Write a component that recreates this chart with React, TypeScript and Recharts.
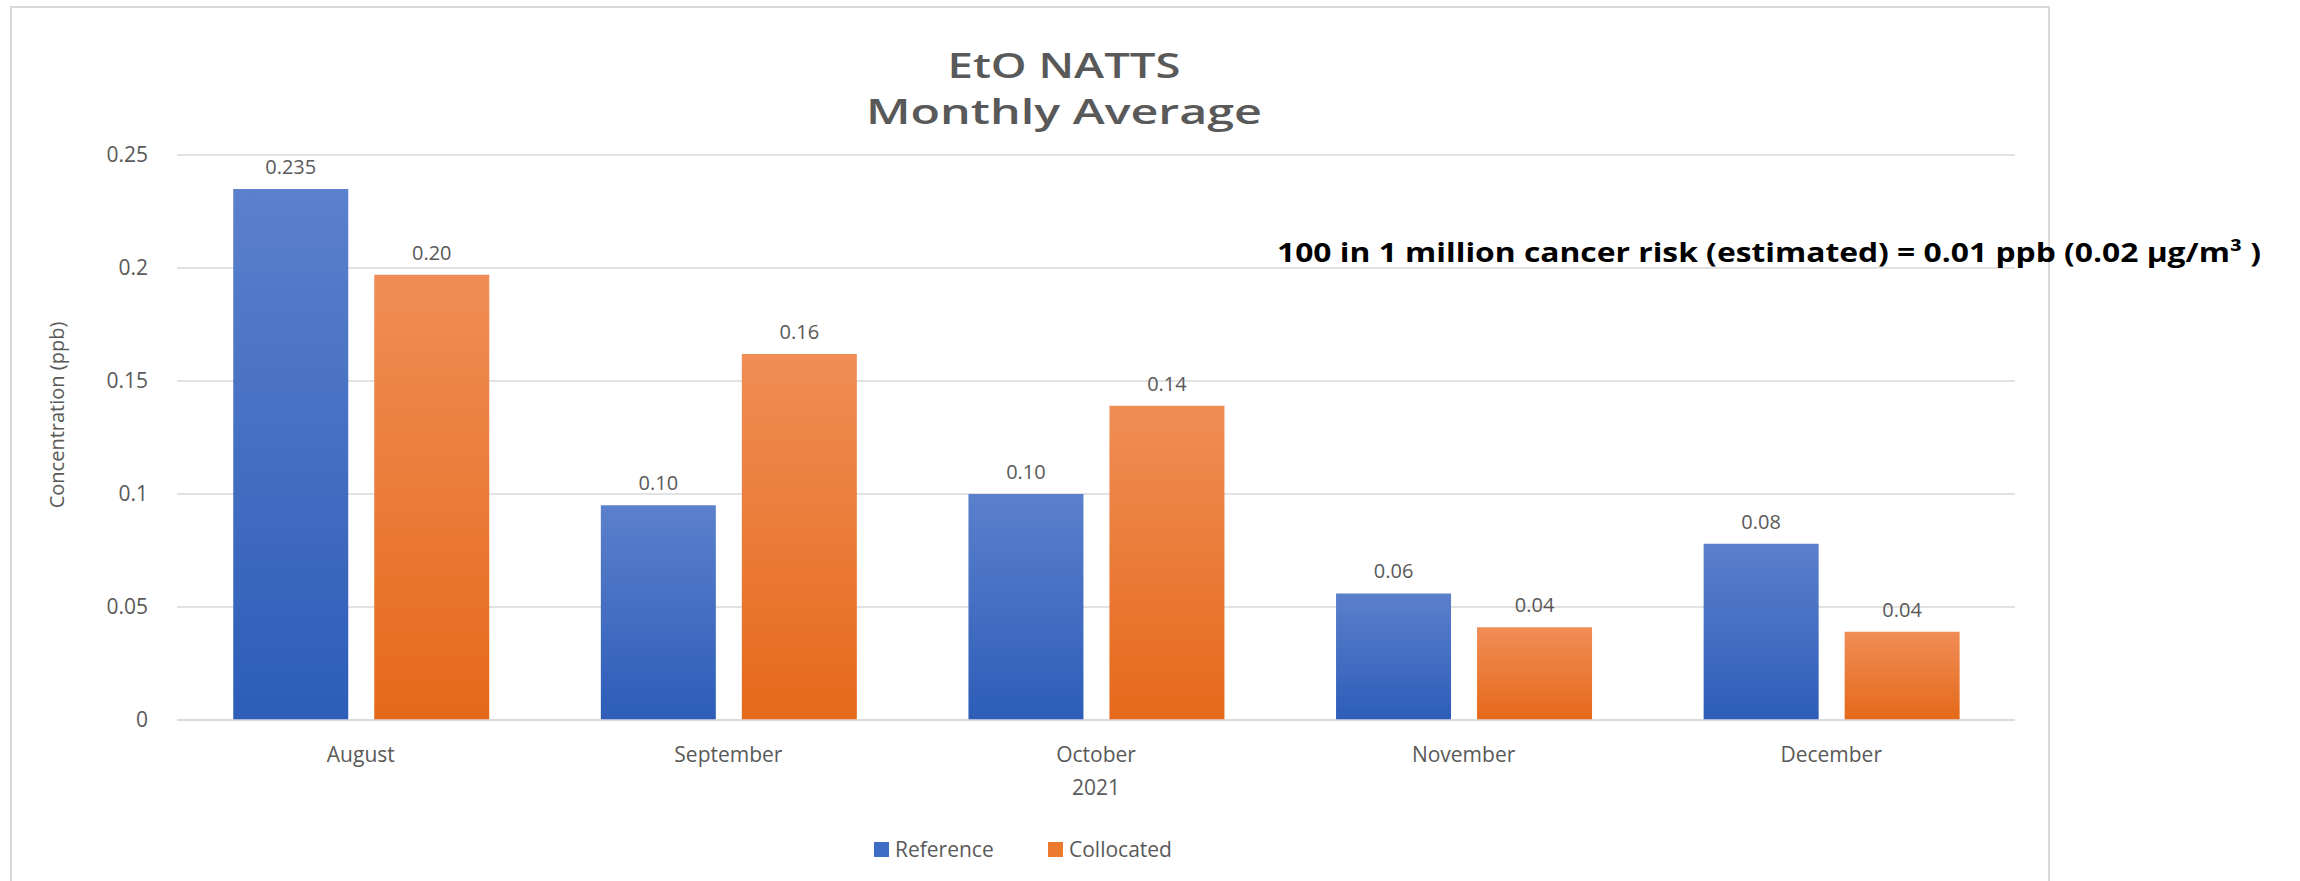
import React from 'react';
import { BarChart, Bar, XAxis, YAxis, CartesianGrid, LabelList } from 'recharts';

const months = ['August', 'September', 'October', 'November', 'December'];
const referenceValues = [0.235, 0.095, 0.1, 0.056, 0.078];
const collocatedValues = [0.197, 0.162, 0.139, 0.041, 0.039];
const referenceLabels = ['0.235', '0.10', '0.10', '0.06', '0.08'];
const collocatedLabels = ['0.20', '0.16', '0.14', '0.04', '0.04'];
const yTicks = [0, 0.05, 0.1, 0.15, 0.2, 0.25];
const yearLabel = '2021';
const yAxisTitle = 'Concentration (ppb)';
const titleLines = ['EtO NATTS', 'Monthly Average'];
const riskNote = '100 in 1 million cancer risk (estimated) = 0.01 ppb (0.02 µg/m³ )';

const series = [
  { key: 'reference', label: 'refLabel', name: 'Reference', top: '#5b80cc', bottom: '#2d5db8', swatch: '#3f6cc4' },
  { key: 'collocated', label: 'colLabel', name: 'Collocated', top: '#f08d56', bottom: '#e5691a', swatch: '#ec7a2e' },
];

const data = months.map((month, i) => ({
  month,
  reference: referenceValues[i],
  collocated: collocatedValues[i],
  refLabel: referenceLabels[i],
  colLabel: collocatedLabels[i],
}));

const font = '"Open Sans", sans-serif';
const gray = '#595959';

export default function App() {
  return (
    <div style={{ position: 'absolute', left: 0, top: 0, width: 2300, height: 881, background: '#fff' }}>
      <BarChart
        width={2300}
        height={881}
        data={data}
        margin={{ top: 155, right: 285, bottom: 101, left: 0 }}
        barCategoryGap="15.3%"
        barGap={26}
      >
        <defs>
          {series.map((s) => (
            <linearGradient key={s.key} id={`grad-${s.key}`} x1="0" y1="0" x2="0" y2="1">
              <stop offset="0%" stopColor={s.top} />
              <stop offset="100%" stopColor={s.bottom} />
            </linearGradient>
          ))}
        </defs>
        <CartesianGrid vertical={false} stroke="#d9d9d9" strokeWidth={1.5} />
        <XAxis
          dataKey="month"
          height={60}
          axisLine={{ stroke: '#d9d9d9', strokeWidth: 1.5 }}
          tickLine={false}
          tickSize={0}
          tickMargin={27}
          tick={{ fill: gray, fontSize: 21, fontFamily: font }}
          label={{ value: yearLabel, position: 'bottom', offset: 0, fill: gray, fontSize: 21, fontFamily: font }}
        />
        <YAxis
          width={177}
          domain={[0, 0.25]}
          ticks={yTicks}
          axisLine={false}
          tickLine={false}
          tickSize={0}
          tickMargin={29}
          tick={{ fill: gray, fontSize: 21, fontFamily: font }}
        />
        {series.map((s) => (
          <Bar key={s.key} dataKey={s.key} name={s.name} fill={`url(#grad-${s.key})`} isAnimationActive={false}>
            <LabelList dataKey={s.label} position="top" offset={15} fill={gray} fontSize={20} fontFamily={font} />
          </Bar>
        ))}
      </BarChart>

      <svg width={2300} height={881} style={{ position: 'absolute', left: 0, top: 0, pointerEvents: 'none' }}>
        <rect x={11} y={7} width={2038} height={890} fill="none" stroke="#d9d9d9" strokeWidth={2} />
        <text x={1064} y={78} textAnchor="middle" fill={gray} fontSize={35} fontWeight={600} fontFamily={font}
          textLength={233} lengthAdjust="spacingAndGlyphs">{titleLines[0]}</text>
        <text x={1064} y={124} textAnchor="middle" fill={gray} fontSize={35} fontWeight={600} fontFamily={font}
          textLength={396} lengthAdjust="spacingAndGlyphs">{titleLines[1]}</text>
        <text x={1277} y={262} fill="#000" fontSize={27} fontWeight={700} fontFamily={font}
          textLength={984} lengthAdjust="spacingAndGlyphs">{riskNote}</text>
        <text x={0} y={0} transform="translate(64, 415) rotate(-90)" textAnchor="middle" fill={gray}
          fontSize={20} fontFamily={font}>{yAxisTitle}</text>
        {series.map((s, i) => {
          const x0 = i === 0 ? 874 : 1048;
          return (
            <g key={s.key}>
              <rect x={x0} y={842} width={15} height={15} fill={s.swatch} />
              <text x={x0 + 21} y={857} fill={gray} fontSize={21} fontFamily={font}>{s.name}</text>
            </g>
          );
        })}
      </svg>
    </div>
  );
}
